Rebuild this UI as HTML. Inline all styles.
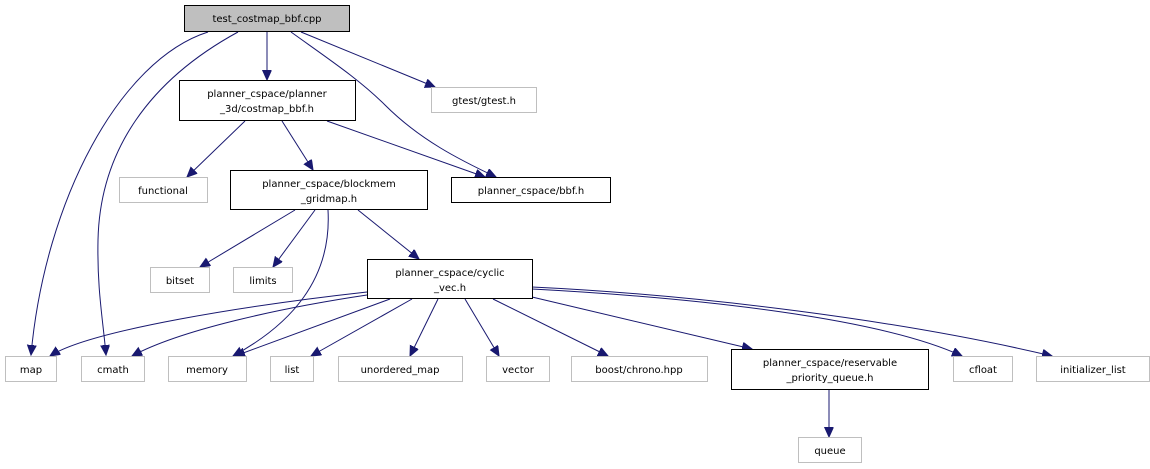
<!DOCTYPE html>
<html><head><meta charset="utf-8"><style>
html,body{margin:0;padding:0;background:#fff;}
svg{display:block;}
text{font-family:"DejaVu Sans","Liberation Sans",sans-serif;font-size:10px;fill:#000;}
</style></head><body>
<svg width="1150" height="469" viewBox="0 0 1150 469" xmlns="http://www.w3.org/2000/svg">
<defs>
<marker id="a" markerUnits="userSpaceOnUse" markerWidth="11" markerHeight="10" refX="10" refY="4.5" orient="auto">
<path d="M0,0 L10,4.5 L0,9 Z" fill="#191970" stroke="#191970"/>
</marker>
</defs>
<g fill="none" stroke="#191970" stroke-width="1" marker-end="url(#a)">
<path d="M208,32 C120,60 45,200 31,355"/>
<path d="M238,32 C150,80 100,150 98,240 C97,290 103,320 106,355"/>
<path d="M267,32 V80"/>
<path d="M291,32 C330,60 360,80 385,105 C420,140 460,160 496,177"/>
<path d="M301,32 L435,87"/>
<path d="M245,121 L187,177"/>
<path d="M282,121 L313,170"/>
<path d="M327,121 L485,177"/>
<path d="M295,210 L200,267"/>
<path d="M315,210 L273,267"/>
<path d="M328,210 C332,280 290,325 233,356"/>
<path d="M358,210 L419,259"/>
<path d="M367,292 C250,305 90,330 50,356"/>
<path d="M367,295 C280,308 180,330 132,356"/>
<path d="M390,299 L235,356"/>
<path d="M412,299 L311,356"/>
<path d="M438,299 L410,356"/>
<path d="M465,299 L499,356"/>
<path d="M493,299 L608,356"/>
<path d="M532,297 L752,349"/>
<path d="M532,289 C700,298 880,318 962,356"/>
<path d="M532,287 C700,295 900,320 1052,356"/>
<path d="M829,389 V437"/>
</g>
<g stroke-width="1">
<rect x="184.5" y="5.5" width="165" height="26" fill="#bfbfbf" stroke="#000"/>
<rect x="179.5" y="80.5" width="176" height="40" fill="#fff" stroke="#000"/>
<rect x="431.5" y="87.5" width="105" height="25" fill="#fff" stroke="#bfbfbf"/>
<rect x="119.5" y="177.5" width="88" height="25" fill="#fff" stroke="#bfbfbf"/>
<rect x="230.5" y="170.5" width="197" height="39" fill="#fff" stroke="#000"/>
<rect x="451.5" y="177.5" width="159" height="25" fill="#fff" stroke="#000"/>
<rect x="150.5" y="267.5" width="59" height="25" fill="#fff" stroke="#bfbfbf"/>
<rect x="233.5" y="267.5" width="59" height="25" fill="#fff" stroke="#bfbfbf"/>
<rect x="367.5" y="259.5" width="165" height="39" fill="#fff" stroke="#000"/>
<rect x="5.5" y="356.5" width="51" height="25" fill="#fff" stroke="#bfbfbf"/>
<rect x="81.5" y="356.5" width="63" height="25" fill="#fff" stroke="#bfbfbf"/>
<rect x="168.5" y="356.5" width="78" height="25" fill="#fff" stroke="#bfbfbf"/>
<rect x="270.5" y="356.5" width="43" height="25" fill="#fff" stroke="#bfbfbf"/>
<rect x="338.5" y="356.5" width="124" height="25" fill="#fff" stroke="#bfbfbf"/>
<rect x="486.5" y="356.5" width="63" height="25" fill="#fff" stroke="#bfbfbf"/>
<rect x="571.5" y="356.5" width="136" height="25" fill="#fff" stroke="#bfbfbf"/>
<rect x="731.5" y="349.5" width="197" height="40" fill="#fff" stroke="#000"/>
<rect x="953.5" y="356.5" width="59" height="25" fill="#fff" stroke="#bfbfbf"/>
<rect x="1036.5" y="356.5" width="113" height="25" fill="#fff" stroke="#bfbfbf"/>
<rect x="798.5" y="437.5" width="63" height="25" fill="#fff" stroke="#bfbfbf"/>
</g>
<g text-anchor="middle">
<text x="267" y="22">test_costmap_bbf.cpp</text>
<text x="267" y="97">planner_cspace/planner</text>
<text x="267" y="112">_3d/costmap_bbf.h</text>
<text x="484" y="104">gtest/gtest.h</text>
<text x="163" y="194">functional</text>
<text x="329" y="187">planner_cspace/blockmem</text>
<text x="329" y="202">_gridmap.h</text>
<text x="531" y="194">planner_cspace/bbf.h</text>
<text x="180" y="284">bitset</text>
<text x="263" y="284">limits</text>
<text x="450" y="276">planner_cspace/cyclic</text>
<text x="450" y="291">_vec.h</text>
<text x="31" y="373">map</text>
<text x="113" y="373">cmath</text>
<text x="207" y="373">memory</text>
<text x="292" y="373">list</text>
<text x="400" y="373">unordered_map</text>
<text x="518" y="373">vector</text>
<text x="639" y="373">boost/chrono.hpp</text>
<text x="830" y="366">planner_cspace/reservable</text>
<text x="830" y="381">_priority_queue.h</text>
<text x="983" y="373">cfloat</text>
<text x="1093" y="373">initializer_list</text>
<text x="830" y="454">queue</text>
</g>
</svg>
</body></html>
